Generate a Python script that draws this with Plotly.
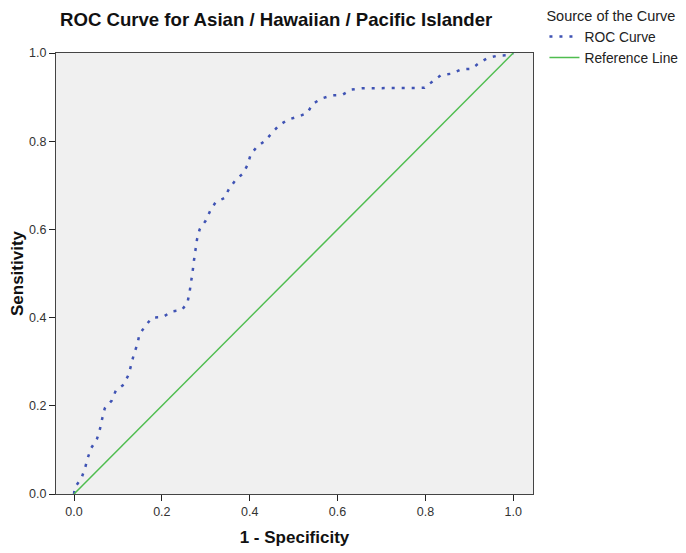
import plotly.graph_objects as go

# ROC curve points (1 - specificity, sensitivity)
roc_fpr = [0.0, 0.002, 0.017, 0.025, 0.031, 0.039, 0.052, 0.059, 0.064, 0.070, 0.086, 0.095,
           0.113, 0.124, 0.130, 0.136, 0.144, 0.149, 0.163, 0.178, 0.202, 0.223, 0.245,
           0.258, 0.263, 0.267, 0.270, 0.273, 0.276, 0.280, 0.286, 0.300, 0.310, 0.322,
           0.342, 0.353, 0.368, 0.385, 0.395, 0.402, 0.416, 0.435, 0.451, 0.467, 0.487,
           0.511, 0.531, 0.544, 0.564, 0.587, 0.611, 0.631, 0.655, 0.679, 0.703, 0.727,
           0.751, 0.775, 0.798, 0.817, 0.836, 0.859, 0.882, 0.905, 0.922, 0.942, 0.965,
           0.991, 1.0]
roc_tpr = [0.0, 0.015, 0.036, 0.058, 0.081, 0.104, 0.124, 0.147, 0.170, 0.194, 0.212, 0.234,
           0.248, 0.270, 0.292, 0.316, 0.339, 0.362, 0.382, 0.400, 0.401, 0.414, 0.417,
           0.433, 0.457, 0.480, 0.504, 0.529, 0.552, 0.577, 0.600, 0.620, 0.642, 0.661,
           0.671, 0.692, 0.712, 0.727, 0.746, 0.769, 0.787, 0.801, 0.819, 0.836, 0.849,
           0.856, 0.864, 0.885, 0.897, 0.904, 0.905, 0.917, 0.920, 0.920, 0.920, 0.920,
           0.920, 0.920, 0.921, 0.936, 0.950, 0.953, 0.963, 0.964, 0.977, 0.989, 0.994,
           0.995, 1.0]

ref_x = [0.0, 1.0]
ref_y = [0.0, 1.0]

tick_vals = [0.0, 0.2, 0.4, 0.6, 0.8, 1.0]
tick_text = ["0.0", "0.2", "0.4", "0.6", "0.8", "1.0"]

FONT = "Liberation Sans, Arial, sans-serif"

fig = go.Figure()
fig.add_trace(go.Scatter(
    x=roc_fpr, y=roc_tpr, mode="lines", name="ROC Curve",
    line=dict(color="#3F53B4", width=2.5, dash="3px,7px"),
))
fig.add_trace(go.Scatter(
    x=ref_x, y=ref_y, mode="lines", name="Reference Line",
    line=dict(color="#4FBD4F", width=1.5),
))

fig.update_layout(
    width=686, height=553,
    margin=dict(l=56, r=153, t=53, b=59, autoexpand=False),
    paper_bgcolor="white",
    plot_bgcolor="#F0F0F0",
    font=dict(family=FONT, size=12, color="#222"),
    title=dict(
        text="<b>ROC Curve for Asian / Hawaiian / Pacific Islander</b>",
        x=60 / 686, xanchor="left", y=1 - 19 / 553, yanchor="middle",
        font=dict(family=FONT, size=18.6, color="#111"),
    ),
    showlegend=True,
    legend=dict(
        x=1.024, xanchor="left", y=1.115, yanchor="top",
        title=dict(text="Source of the Curve", font=dict(family=FONT, size=14.5, color="#222")),
        font=dict(family=FONT, size=13.8, color="#222"),
        bgcolor="rgba(0,0,0,0)",
        itemwidth=30,
        tracegroupgap=0,
    ),
    xaxis=dict(
        range=[-0.041, 1.045],
        tickvals=tick_vals, ticktext=tick_text,
        ticks="outside", ticklen=6, tickcolor="#222",
        showline=True, linecolor="#444", linewidth=1, mirror=True,
        showgrid=False, zeroline=False, automargin=False,
        title=dict(text="<b>1 - Specificity</b>", font=dict(family=FONT, size=17, color="#111"), standoff=13),
        tickfont=dict(family=FONT, size=12.5, color="#333"),
    ),
    yaxis=dict(
        range=[0.0, 1.0],
        tickvals=tick_vals, ticktext=tick_text,
        ticks="outside", ticklen=6, tickcolor="#222",
        showline=True, linecolor="#444", linewidth=1, mirror=True,
        showgrid=False, zeroline=False, automargin=False,
        title=dict(text="<b>Sensitivity</b>", font=dict(family=FONT, size=17, color="#111"), standoff=1),
        tickfont=dict(family=FONT, size=12.5, color="#333"),
    ),
)

fig.write_html("out.html", config={"displayModeBar": False},
               post_script="document.body.style.margin='0px';")
